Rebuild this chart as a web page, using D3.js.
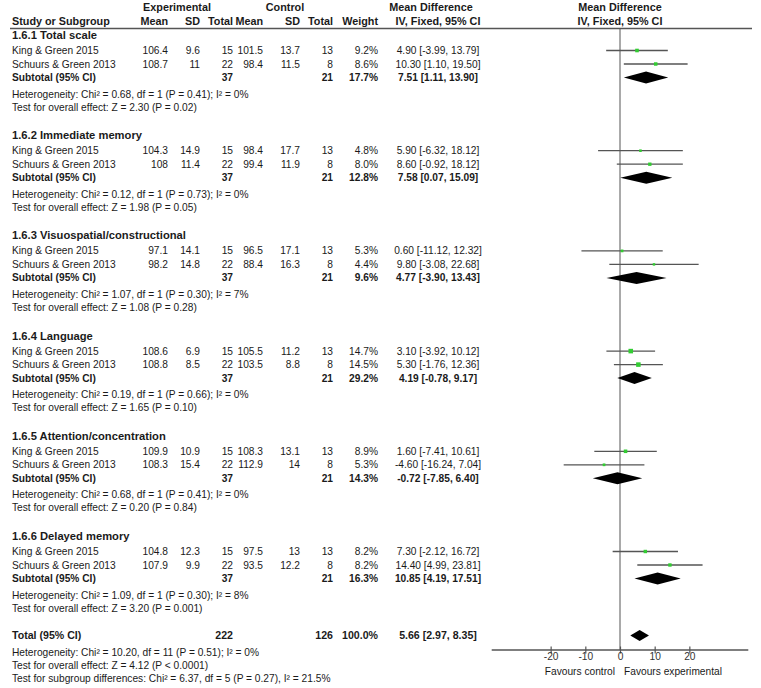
<!DOCTYPE html>
<html><head><meta charset="utf-8">
<script src="https://cdn.jsdelivr.net/npm/d3@7"></script>
<style>
body{margin:0;background:#fff;}
svg text{font-family:"Liberation Sans",Arial,sans-serif;font-size:10.2px;fill:#1a1a1a;}
</style></head><body>
<svg id="c" width="761" height="688"></svg>
<script>
const subgroups = ["1.6.1 Total scale","1.6.2 Immediate memory","1.6.3 Visuospatial/constructional","1.6.4 Language","1.6.5 Attention/concentration","1.6.6 Delayed memory"];
const studies = ["King & Green 2015","Schuurs & Green 2013"];
const expMean = [[106.4,108.7],[104.3,108],[97.1,98.2],[108.6,108.8],[109.9,108.3],[104.8,107.9]];
const expSD   = [[9.6,11],[14.9,11.4],[14.1,14.8],[6.9,8.5],[10.9,15.4],[12.3,9.9]];
const expN    = [15,22];
const ctlMean = [[101.5,98.4],[98.4,99.4],[96.5,88.4],[105.5,103.5],[108.3,112.9],[97.5,93.5]];
const ctlSD   = [[13.7,11.5],[17.7,11.9],[17.1,16.3],[11.2,8.8],[13.1,14],[13,12.2]];
const ctlN    = [13,8];
const weights = [[9.2,8.6],[4.8,8.0],[5.3,4.4],[14.7,14.5],[8.9,5.3],[8.2,8.2]];
const md      = [[4.90,10.30],[5.90,8.60],[0.60,9.80],[3.10,5.30],[1.60,-4.60],[7.30,14.40]];
const mdLo    = [[-3.99,1.10],[-6.32,-0.92],[-11.12,-3.08],[-3.92,-1.76],[-7.41,-16.24],[-2.12,4.99]];
const mdHi    = [[13.79,19.50],[18.12,18.12],[12.32,22.68],[10.12,12.36],[10.61,7.04],[16.72,23.81]];
const subN    = [37,21];
const subWeight = [17.7,12.8,9.6,29.2,14.3,16.3];
const subMd   = [7.51,7.58,4.77,4.19,-0.72,10.85];
const subLo   = [1.11,0.07,-3.90,-0.78,-7.85,4.19];
const subHi   = [13.90,15.09,13.43,9.17,6.40,17.51];
const hetText = ["Chi\u00b2 = 0.68, df = 1 (P = 0.41); I\u00b2 = 0%","Chi\u00b2 = 0.12, df = 1 (P = 0.73); I\u00b2 = 0%","Chi\u00b2 = 1.07, df = 1 (P = 0.30); I\u00b2 = 7%","Chi\u00b2 = 0.19, df = 1 (P = 0.66); I\u00b2 = 0%","Chi\u00b2 = 0.68, df = 1 (P = 0.41); I\u00b2 = 0%","Chi\u00b2 = 1.09, df = 1 (P = 0.30); I\u00b2 = 8%"];
const zText   = ["Z = 2.30 (P = 0.02)","Z = 1.98 (P = 0.05)","Z = 1.08 (P = 0.28)","Z = 1.65 (P = 0.10)","Z = 0.20 (P = 0.84)","Z = 3.20 (P = 0.001)"];
const totalN  = [222,126];
const totalWeight = 100.0;
const totalMd = [5.66,2.97,8.35];
const totalHet = "Chi\u00b2 = 10.20, df = 11 (P = 0.51); I\u00b2 = 0%";
const totalZ = "Z = 4.12 (P < 0.0001)";
const subgroupDiff = "Chi\u00b2 = 6.37, df = 5 (P = 0.27), I\u00b2 = 21.5%";
const tickValues = [-20,-10,0,10,20];
const favours = ["Favours control","Favours experimental"];

const svg = d3.select("#c");
const x = d3.scaleLinear().domain([-37,37]).range([491.7,748.3]);
const sq = d3.scaleSqrt().domain([0,15]).range([0,4.6]);
const secY = d3.scaleLinear().domain([0,1]).range([35,135.2]);
const col = {label:12, eM:168, eSD:200, eN:233, cM:263, cSD:300, cN:333, w:378, ci:438};
const fmt2 = d3.format(".2f"), fmt1 = d3.format(".1f");
const f2 = v => fmt2(v).replace("\u2212","-");
const ciStr = (m,l,h)=>`${f2(m)} [${f2(l)}, ${f2(h)}]`;

function txt(xp,y,s,anchor="start",bold=false,size=null){
  const t = svg.append("text").attr("x",xp).attr("y",y).attr("dy","0.35em")
    .attr("text-anchor",anchor).style("font-weight",bold?"bold":"normal").text(s);
  if(size) t.style("font-size",size+"px");
  return t;
}

// headers
const H = 10.8;
txt(177,7,"Experimental","middle",true,H);
txt(285,7,"Control","middle",true,H);
txt(431,7,"Mean Difference","middle",true,H);
txt(620,7,"Mean Difference","middle",true,H);
txt(col.label,21,"Study or Subgroup","start",true,H);
txt(col.eM,21,"Mean","end",true,H);
txt(col.eSD,21,"SD","end",true,H);
txt(col.eN,21,"Total","end",true,H);
txt(col.cM,21,"Mean","end",true,H);
txt(col.cSD,21,"SD","end",true,H);
txt(col.cN,21,"Total","end",true,H);
txt(col.w,21,"Weight","end",true,H);
txt(col.ci,21,"IV, Fixed, 95% CI","middle",true,H);
txt(620,21,"IV, Fixed, 95% CI","middle",true,H);

svg.append("line").attr("x1",10).attr("x2",752).attr("y1",28.5).attr("y2",28.5)
  .attr("stroke","#555").attr("stroke-width",1.5);
// zero line
svg.append("line").attr("x1",x(0)).attr("x2",x(0)).attr("y1",28.5).attr("y2",650)
  .attr("stroke","#555").attr("stroke-width",1);

function diamond(y,m,l,h,hh){
  svg.append("path").attr("d",`M${x(l)},${y} L${x(m)},${y-hh} L${x(h)},${y} L${x(m)},${y+hh} Z`)
    .attr("fill","#000");
}

subgroups.forEach((g,i)=>{
  const y0 = secY(i);
  txt(col.label,y0,g,"start",true,11.2);
  studies.forEach((s,j)=>{
    const y = y0 + 15.5 + j*13.5;
    txt(col.label,y,s);
    txt(col.eM,y,String(expMean[i][j]),"end");
    txt(col.eSD,y,String(expSD[i][j]),"end");
    txt(col.eN,y,String(expN[j]),"end");
    txt(col.cM,y,String(ctlMean[i][j]),"end");
    txt(col.cSD,y,String(ctlSD[i][j]),"end");
    txt(col.cN,y,String(ctlN[j]),"end");
    txt(col.w,y,fmt1(weights[i][j])+"%","end");
    txt(col.ci,y,ciStr(md[i][j],mdLo[i][j],mdHi[i][j]),"middle");
    svg.append("line").attr("x1",x(mdLo[i][j])).attr("x2",x(mdHi[i][j])).attr("y1",y).attr("y2",y)
      .attr("stroke","#555").attr("stroke-width",1.3);
    const s2 = sq(weights[i][j]);
    svg.append("rect").attr("x",x(md[i][j])-s2/2).attr("y",y-s2/2).attr("width",s2).attr("height",s2)
      .attr("fill","#33cc33");
  });
  const ys = y0 + 42.5;
  txt(col.label,ys,"Subtotal (95% CI)","start",true);
  txt(col.eN,ys,String(subN[0]),"end",true);
  txt(col.cN,ys,String(subN[1]),"end",true);
  txt(col.w,ys,fmt1(subWeight[i])+"%","end",true);
  txt(col.ci,ys,ciStr(subMd[i],subLo[i],subHi[i]),"middle",true);
  diamond(ys,subMd[i],subLo[i],subHi[i],6);
  txt(col.label,y0+59,"Heterogeneity: "+hetText[i]);
  txt(col.label,y0+72,"Test for overall effect: "+zText[i]);
});

const yt = 635.5;
txt(col.label,yt,"Total (95% CI)","start",true,10.6);
txt(col.eN,yt,String(totalN[0]),"end",true,10.6);
txt(col.cN,yt,String(totalN[1]),"end",true,10.6);
txt(col.w,yt,fmt1(totalWeight)+"%","end",true,10.6);
txt(col.ci,yt,ciStr(totalMd[0],totalMd[1],totalMd[2]),"middle",true,10.6);
diamond(yt,totalMd[0],totalMd[1],totalMd[2],5.5);
txt(col.label,652,"Heterogeneity: "+totalHet);
txt(col.label,665,"Test for overall effect: "+totalZ);
txt(col.label,678,"Test for subgroup differences: "+subgroupDiff);

// axis
const axisY = 650;
svg.append("line").attr("x1",x.range()[0]).attr("x2",x.range()[1]).attr("y1",axisY).attr("y2",axisY)
  .attr("stroke","#555").attr("stroke-width",1.5);
const ag = svg.append("g").attr("transform",`translate(0,${axisY-3.5})`)
  .call(d3.axisBottom(x).tickValues(tickValues).tickSize(7).tickFormat(d => String(d)));
ag.select(".domain").remove();
ag.selectAll(".tick line").attr("stroke","#555").attr("stroke-width",1.2);
ag.selectAll(".tick text").attr("y",10).attr("dy","0.35em").style("fill","#333");
ag.attr("font-family",null).attr("font-size",null);
txt(x(0)-5,671,favours[0],"end");
txt(x(0)+4,671,favours[1],"start");
</script></body></html>
